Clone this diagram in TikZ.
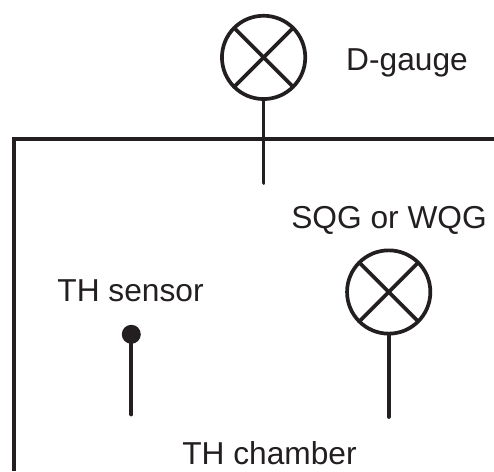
\documentclass[tikz,border=0pt]{standalone}
\usepackage{fontspec}
\setmainfont{Liberation Sans}
\definecolor{ink}{HTML}{231F20}
\tikzset{
    pipe/.style={draw=ink,line width=3.7pt,line cap=round},
    gauge/.style={draw=ink,circle,line width=3.7pt,minimum size=83.3pt,inner sep=0pt,outer sep=0pt},
    tip/.style={fill=ink,circle,minimum size=19pt,inner sep=0pt,outer sep=0pt},
    lbl/.style={inner sep=0pt,anchor=base,text=ink,font=\fontsize{31.7}{36}\selectfont}
}
\begin{document}
\begin{tikzpicture}[x=1pt,y=-1pt]
    \useasboundingbox (0,0) rectangle (494,471);

    % Chamber wall
    \draw[pipe,line cap=butt] (494,138.7) -- (14.3,138.7) -- (14.3,471);

    % D-gauge
    \node[gauge] (dgauge) at (263.6,57.4) {};
    \draw[pipe] (dgauge.north west) -- (dgauge.south east);
    \draw[pipe] (dgauge.north east) -- (dgauge.south west);
    \coordinate (dend) at (263.6,183);
    \draw[pipe] (dgauge.south) -- (dend);
    \node[lbl] (dlabel) at (407,70.7) {D-gauge};

    % SQG or WQG
    \node[gauge] (qgauge) at (388.7,292) {};
    \draw[pipe] (qgauge.north west) -- (qgauge.south east);
    \draw[pipe] (qgauge.north east) -- (qgauge.south west);
    \coordinate (qend) at (388.7,417);
    \draw[pipe] (qgauge.south) -- (qend);
    \node[lbl] (qlabel) at (389,228.3) {SQG or WQG};

    % TH sensor
    \node[tip] (thtip) at (131.3,334.3) {};
    \coordinate (thend) at (131.3,414.5);
    \draw[pipe] (thtip) -- (thend);
    \node[lbl] (thlabel) at (130.5,301.7) {TH sensor};

    % Chamber label
    \node[lbl] (chlabel) at (269.5,464) {TH chamber};
\end{tikzpicture}
\end{document}
